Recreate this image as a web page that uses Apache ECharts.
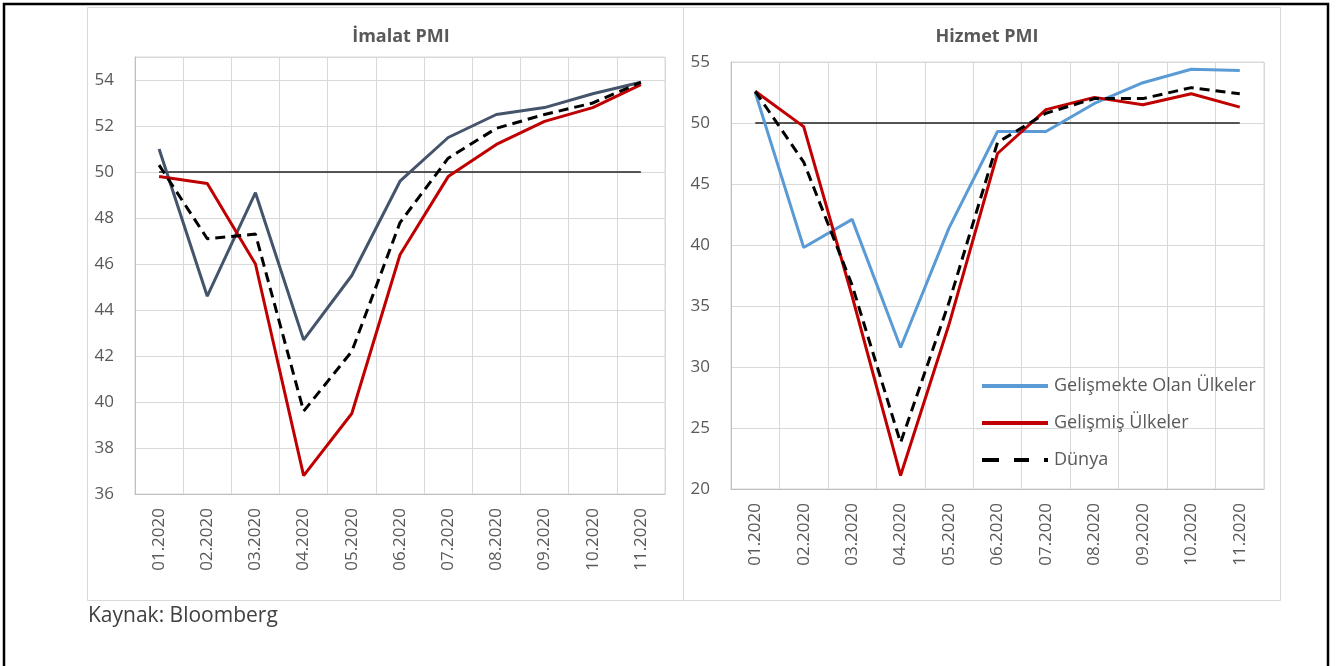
<!DOCTYPE html>
<html>
<head>
<meta charset="utf-8">
<script src="https://cdn.jsdelivr.net/npm/echarts@6/dist/echarts.min.js"></script>
<style>
html,body{margin:0;padding:0;background:#fff;}
#c{width:1344px;height:666px;}
</style>
</head>
<body>
<div id="c"></div>
<script>
const categories = ['01.2020','02.2020','03.2020','04.2020','05.2020','06.2020','07.2020','08.2020','09.2020','10.2020','11.2020'];

// İmalat PMI
const imalatGelismekte = [51.0, 44.6, 49.1, 42.7, 45.5, 49.6, 51.5, 52.5, 52.8, 53.4, 53.9];
const imalatGelismis   = [49.8, 49.5, 46.0, 36.8, 39.5, 46.4, 49.8, 51.2, 52.2, 52.8, 53.8];
const imalatDunya      = [50.3, 47.1, 47.3, 39.6, 42.2, 47.8, 50.6, 51.9, 52.5, 53.0, 53.9];

// Hizmet PMI
const hizmetGelismekte = [52.5, 39.8, 42.1, 31.6, 41.4, 49.3, 49.3, 51.6, 53.3, 54.4, 54.3];
const hizmetGelismis   = [52.6, 49.7, 35.8, 21.1, 33.5, 47.5, 51.1, 52.1, 51.5, 52.4, 51.3];
const hizmetDunya      = [52.6, 46.8, 36.7, 23.8, 35.3, 48.4, 50.8, 52.0, 52.0, 52.9, 52.4];

// 50 eşik çizgisi
const threshold = [50, 50, 50, 50, 50, 50, 50, 50, 50, 50, 50];

const seriesNames = ['Gelişmekte Olan Ülkeler', 'Gelişmiş Ülkeler', 'Dünya'];

const FONT = '"Open Sans", "Noto Sans", sans-serif';
const gridColor = '#d9d9d9';
const labelColor = '#595959';

function xAxis(gi) {
  return {
    type: 'category', gridIndex: gi, data: categories, boundaryGap: true,
    axisLine: {show: true, lineStyle: {color: '#bfbfbf', width: 1}},
    axisTick: {show: false},
    splitLine: {show: true, lineStyle: {color: gridColor, width: 1}},
    axisLabel: {rotate: 90, color: labelColor, fontSize: 17, fontFamily: FONT, margin: 14, interval: 0}
  };
}
function yAxis(gi, min, max, interval) {
  return {
    type: 'value', gridIndex: gi, min: min, max: max, interval: interval,
    axisLine: {show: true, lineStyle: {color: '#bfbfbf', width: 1}},
    axisTick: {show: false},
    splitLine: {show: true, lineStyle: {color: gridColor, width: 1}},
    axisLabel: {color: labelColor, fontSize: 17, fontFamily: FONT, margin: 21, showMaxLabel: (max % interval === 0)}
  };
}
function line(name, data, gi, color, dashed, width) {
  return {
    name: name, type: 'line', xAxisIndex: gi, yAxisIndex: gi, data: data,
    symbol: 'none', silent: true, z: dashed ? 4 : 3,
    lineStyle: {color: color, width: width || 3, type: dashed ? [10, 6] : 'solid'},
    itemStyle: {color: color}
  };
}

const solidIcon = 'path://M0,0H66V4H0Z';
const dashIcon = 'path://M0,0H17V4H0Z M32,0H47V4H32Z M62,0H66V4H62Z';

const option = {
  animation: false,
  backgroundColor: '#fff',
  textStyle: {fontFamily: FONT},
  title: [
    {text: 'İmalat PMI', left: 396, top: 23, textAlign: 'center',
     textStyle: {fontSize: 18, fontWeight: 'bold', color: '#595959', fontFamily: FONT}},
    {text: 'Hizmet PMI', left: 982, top: 23, textAlign: 'center',
     textStyle: {fontSize: 18, fontWeight: 'bold', color: '#595959', fontFamily: FONT}}
  ],
  grid: [
    {left: 135, right: 679, top: 57, bottom: 172, show: true, borderColor: gridColor, borderWidth: 1},
    {left: 731, right: 80, top: 62, bottom: 177, show: true, borderColor: gridColor, borderWidth: 1}
  ],
  xAxis: [xAxis(0), xAxis(1)],
  yAxis: [yAxis(0, 36, 55, 2), yAxis(1, 20, 55, 5)],
  legend: {
    show: true, orient: 'vertical', left: 977, top: 370,
    data: [
      {name: seriesNames[0], icon: solidIcon},
      {name: seriesNames[1], icon: solidIcon},
      {name: seriesNames[2], icon: dashIcon}
    ],
    itemWidth: 68, itemHeight: 4, itemGap: 15,
    selectedMode: false,
    textStyle: {color: labelColor, fontSize: 18, fontFamily: FONT, lineHeight: 22}
  },
  graphic: [
    {type: 'rect', shape: {x: 4, y: 4, width: 1324, height: 680}, style: {fill: null, stroke: '#000', lineWidth: 2.5}, silent: true},
    {type: 'rect', shape: {x: 87.5, y: 7.5, width: 596, height: 593}, style: {fill: null, stroke: '#d9d9d9', lineWidth: 1}, silent: true},
    {type: 'rect', shape: {x: 683.5, y: 7.5, width: 597, height: 593}, style: {fill: null, stroke: '#d9d9d9', lineWidth: 1}, silent: true},
    {type: 'text', left: 88, top: 606, style: {text: 'Kaynak: Bloomberg', fill: '#404040', fontSize: 21, fontFamily: FONT}, silent: true}
  ],
  series: [
    line(seriesNames[0], hizmetGelismekte, 1, '#5b9bd5', false),
    line(seriesNames[1], hizmetGelismis, 1, '#c00000', false),
    line(seriesNames[2], hizmetDunya, 1, '#000000', true),
    {name: 'eşik-h', type: 'line', xAxisIndex: 1, yAxisIndex: 1, data: threshold, symbol: 'none', silent: true, z: 2,
     lineStyle: {color: '#222', width: 1.5}},
    line('İmalat - ' + seriesNames[0], imalatGelismekte, 0, '#44546a', false),
    line('İmalat - ' + seriesNames[1], imalatGelismis, 0, '#c00000', false),
    line('İmalat - ' + seriesNames[2], imalatDunya, 0, '#000000', true),
    {name: 'eşik-i', type: 'line', xAxisIndex: 0, yAxisIndex: 0, data: threshold, symbol: 'none', silent: true, z: 2,
     lineStyle: {color: '#222', width: 1.5}}
  ]
};

const chart = echarts.init(document.getElementById('c'), null, {renderer: 'canvas'});
chart.setOption(option);
</script>
</body>
</html>
